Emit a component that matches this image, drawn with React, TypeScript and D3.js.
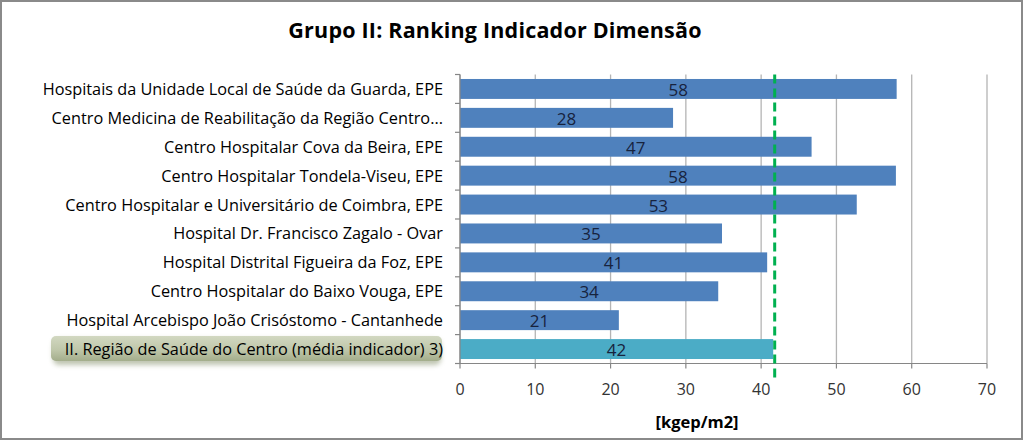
import React from "react";
import * as d3 from "d3";

const categories = [
  "Hospitais da Unidade Local de Saúde da Guarda, EPE",
  "Centro Medicina de Reabilitação da Região Centro...",
  "Centro Hospitalar Cova da Beira, EPE",
  "Centro Hospitalar Tondela-Viseu, EPE",
  "Centro Hospitalar e Universitário de Coimbra, EPE",
  "Hospital Dr. Francisco Zagalo - Ovar",
  "Hospital Distrital Figueira da Foz, EPE",
  "Centro Hospitalar do Baixo Vouga, EPE",
  "Hospital Arcebispo João Crisóstomo - Cantanhede",
  "II. Região de Saúde do Centro (média indicador) 3)",
];
const values = [58.0, 28.3, 46.7, 57.9, 52.7, 34.8, 40.8, 34.3, 21.1, 41.6];
const averageValue = 41.8;
const xTicks = [0, 10, 20, 30, 40, 50, 60, 70];
const title = "Grupo II: Ranking Indicador Dimensão";
const axisTitle = "[kgep/m2]";

const W = 1023;
const H = 440;
const plot = { left: 460, right: 987, top: 74.5, bottom: 363.5 };
const FONT = "'Open Sans', 'Noto Sans', sans-serif";

export default function App() {
  const x = d3.scaleLinear().domain([0, 70]).range([plot.left, plot.right]);
  const y = d3
    .scaleBand<string>()
    .domain(categories)
    .range([plot.top, plot.bottom])
    .paddingInner(0.31)
    .paddingOuter(0.155);
  const step = y.step();
  const highlightIdx = categories.length - 1;
  const hy = (y(categories[highlightIdx]) ?? 0) + y.bandwidth() / 2;

  return (
    <svg
      width={W}
      height={H}
      style={{ position: "absolute", left: 0, top: 0 }}
      fontFamily={FONT}
    >
      <defs>
        <filter id="glow" x="-10%" y="-50%" width="120%" height="200%">
          <feGaussianBlur stdDeviation="2.5" />
        </filter>
        <linearGradient id="hl" x1="0" y1="0" x2="0" y2="1">
          <stop offset="0%" stopColor="#d2d8c1" />
          <stop offset="55%" stopColor="#bfc7aa" />
          <stop offset="100%" stopColor="#a3ad8b" />
        </linearGradient>
      </defs>
      <rect x={0} y={0} width={W} height={H} fill="#ffffff" />
      <rect x={1} y={1} width={W - 2} height={H - 2} fill="none" stroke="#8a8a8a" strokeWidth={2} />

      <text x={495} y={38} textAnchor="middle" fontSize={21.5} fontWeight="bold" fill="#000" letterSpacing={0.2}>
        {title}
      </text>

      {/* gridlines */}
      {xTicks.map((t) => (
        <line key={"g" + t} x1={x(t)} x2={x(t)} y1={plot.top} y2={plot.bottom} stroke="#b4b4b4" strokeWidth={1.3} />
      ))}

      {/* highlight behind last label */}
      <rect x={53} y={hy - 10} width={388} height={26} rx={6} fill="#8a9470" opacity={0.55} filter="url(#glow)" />
      <rect x={51} y={hy - 13} width={391} height={25} rx={5} fill="url(#hl)" />

      {/* bars */}
      {categories.map((c, i) => (
        <rect
          key={"b" + i}
          x={x(0)}
          y={y(c)}
          width={x(values[i]) - x(0)}
          height={y.bandwidth()}
          fill={i === highlightIdx ? "#4bacc6" : "#4f81bd"}
        />
      ))}

      {/* value labels */}
      {categories.map((c, i) => (
        <text
          key={"v" + i}
          x={(x(0) + x(values[i])) / 2}
          y={(y(c) ?? 0) + y.bandwidth() / 2 + 7}
          textAnchor="middle"
          fontSize={17}
          fill="#17233d"
        >
          {Math.round(values[i])}
        </text>
      ))}

      {/* axes */}
      <line x1={plot.left} x2={plot.left} y1={plot.top} y2={plot.bottom} stroke="#868686" strokeWidth={1.2} />
      <line x1={plot.left} x2={plot.right} y1={plot.bottom} y2={plot.bottom} stroke="#868686" strokeWidth={1.2} />
      {d3.range(categories.length + 1).map((k) => (
        <line
          key={"yt" + k}
          x1={plot.left - 5}
          x2={plot.left}
          y1={plot.top + k * step}
          y2={plot.top + k * step}
          stroke="#868686"
          strokeWidth={1.2}
        />
      ))}
      {xTicks.map((t) => (
        <line key={"xt" + t} x1={x(t)} x2={x(t)} y1={plot.bottom} y2={plot.bottom + 5} stroke="#868686" strokeWidth={1.2} />
      ))}

      {/* average line */}
      <line
        x1={x(averageValue)}
        x2={x(averageValue)}
        y1={plot.top}
        y2={380}
        stroke="#00b050"
        strokeWidth={3}
        strokeDasharray="9,5"
      />

      {/* category labels */}
      {categories.map((c, i) => (
        <text
          key={"c" + i}
          x={443}
          y={(y(c) ?? 0) + y.bandwidth() / 2 + 6}
          textAnchor="end"
          fontSize={16.3}
          fill="#000"
        >
          {c}
        </text>
      ))}

      {/* x tick labels */}
      {xTicks.map((t) => (
        <text key={"xl" + t} x={x(t)} y={395} textAnchor="middle" fontSize={16} fill="#333">
          {t}
        </text>
      ))}

      <text x={697} y={428} textAnchor="middle" fontSize={16.5} fontWeight="bold" fill="#000">
        {axisTitle}
      </text>
    </svg>
  );
}
